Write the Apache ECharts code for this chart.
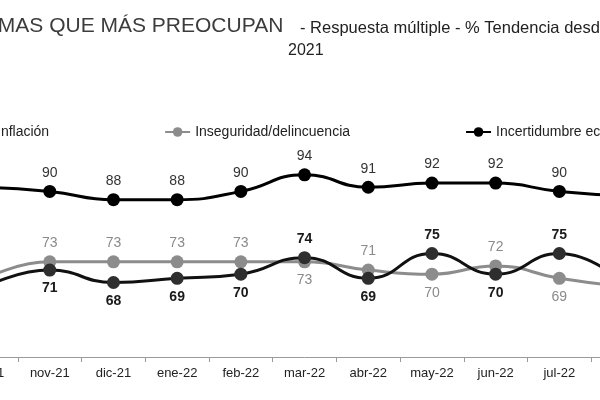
<!DOCTYPE html>
<html>
<head>
<meta charset="utf-8">
<script src="https://cdn.jsdelivr.net/npm/echarts@6/dist/echarts.min.js"></script>
<style>
  html, body { margin: 0; padding: 0; width: 600px; height: 400px; overflow: hidden; background: #fff; }
  #chart { position: absolute; left: -60px; top: 0; width: 740px; height: 400px; }
</style>
</head>
<body>
<div id="chart"></div>
<script>
// ---- data ----
var categories = ['oct-21', 'nov-21', 'dic-21', 'ene-22', 'feb-22', 'mar-22', 'abr-22', 'may-22', 'jun-22', 'jul-22', 'ago-22'];
var seriesNames = ['Inflación', 'Inseguridad/delincuencia', 'Incertidumbre económica'];
var inflacion = [67, 71, 68, 69, 70, 74, 69, 75, 70, 75, 68];
var inseguridad = [69, 73, 73, 73, 73, 73, 71, 70, 72, 69, 67];
var incertidumbre = [91, 90, 88, 88, 90, 94, 91, 92, 92, 90, 89];
var titleMain = 'TEMAS QUE MÁS PREOCUPAN';
var titleSub = '- Respuesta múltiple - % Tendencia desde octubre';
var titleYear = '2021';

var FONT = '"Liberation Sans", Arial, sans-serif';

function withPositions(vals, others, above) {
  return vals.map(function (v, i) {
    var pos = above(v, others[i]) ? 'top' : 'bottom';
    return { value: v, label: { position: pos } };
  });
}

var chart = echarts.init(document.getElementById('chart'), null, { renderer: 'canvas' });

chart.setOption({
  backgroundColor: '#ffffff',
  animation: false,
  textStyle: { fontFamily: FONT },
  graphic: [
    { type: 'text', left: 31, top: 16, style: { text: titleMain, font: '21px ' + FONT, fill: '#3c3c3c' } },
    { type: 'text', left: 360, top: 20, style: { text: titleSub, font: '16.5px ' + FONT, fill: '#222' } },
    { type: 'text', left: 348, top: 43, style: { text: titleYear, font: '16px ' + FONT, fill: '#222' } }
  ],
  legend: {
    left: 21,
    top: 120,
    itemWidth: 25,
    itemHeight: 12,
    itemGap: 115,
    data: seriesNames,
    textStyle: { fontSize: 14, color: '#222', fontFamily: FONT }
  },
  grid: { left: 14.2, right: 25.1, top: 150, bottom: 43 },
  xAxis: {
    type: 'category',
    data: categories,
    boundaryGap: true,
    axisLine: { lineStyle: { color: '#9a9a9a', width: 1 } },
    axisTick: { show: true, length: 5, lineStyle: { color: '#9a9a9a' } },
    axisLabel: { fontSize: 13, color: '#222', margin: 10, fontFamily: FONT }
  },
  yAxis: { type: 'value', min: 50, max: 100, show: false, splitLine: { show: false } },
  series: [
    {
      name: seriesNames[1],
      type: 'line',
      z: 2,
      smooth: true,
      symbol: 'circle',
      symbolSize: 13,
      data: withPositions(inseguridad, inflacion, function (a, b) { return a >= b; }),
      lineStyle: { color: '#8c8c8c', width: 3 },
      itemStyle: { color: '#8c8c8c' },
      label: { show: true, fontSize: 14, color: '#8a8a8a', distance: 5, fontFamily: FONT }
    },
    {
      name: seriesNames[0],
      type: 'line',
      z: 3,
      smooth: true,
      symbol: 'circle',
      symbolSize: 13,
      data: withPositions(inflacion, inseguridad, function (a, b) { return a > b; }),
      lineStyle: { color: '#111', width: 3 },
      itemStyle: { color: '#2e2e2e' },
      label: { show: true, fontSize: 14, color: '#1a1a1a', fontWeight: 'bold', distance: 5, fontFamily: FONT }
    },
    {
      name: seriesNames[2],
      type: 'line',
      z: 4,
      smooth: true,
      symbol: 'circle',
      symbolSize: 13,
      data: incertidumbre,
      lineStyle: { color: '#000', width: 3 },
      itemStyle: { color: '#000' },
      label: { show: true, position: 'top', fontSize: 14, color: '#333', distance: 5, fontFamily: FONT }
    }
  ]
});
</script>
</body>
</html>
